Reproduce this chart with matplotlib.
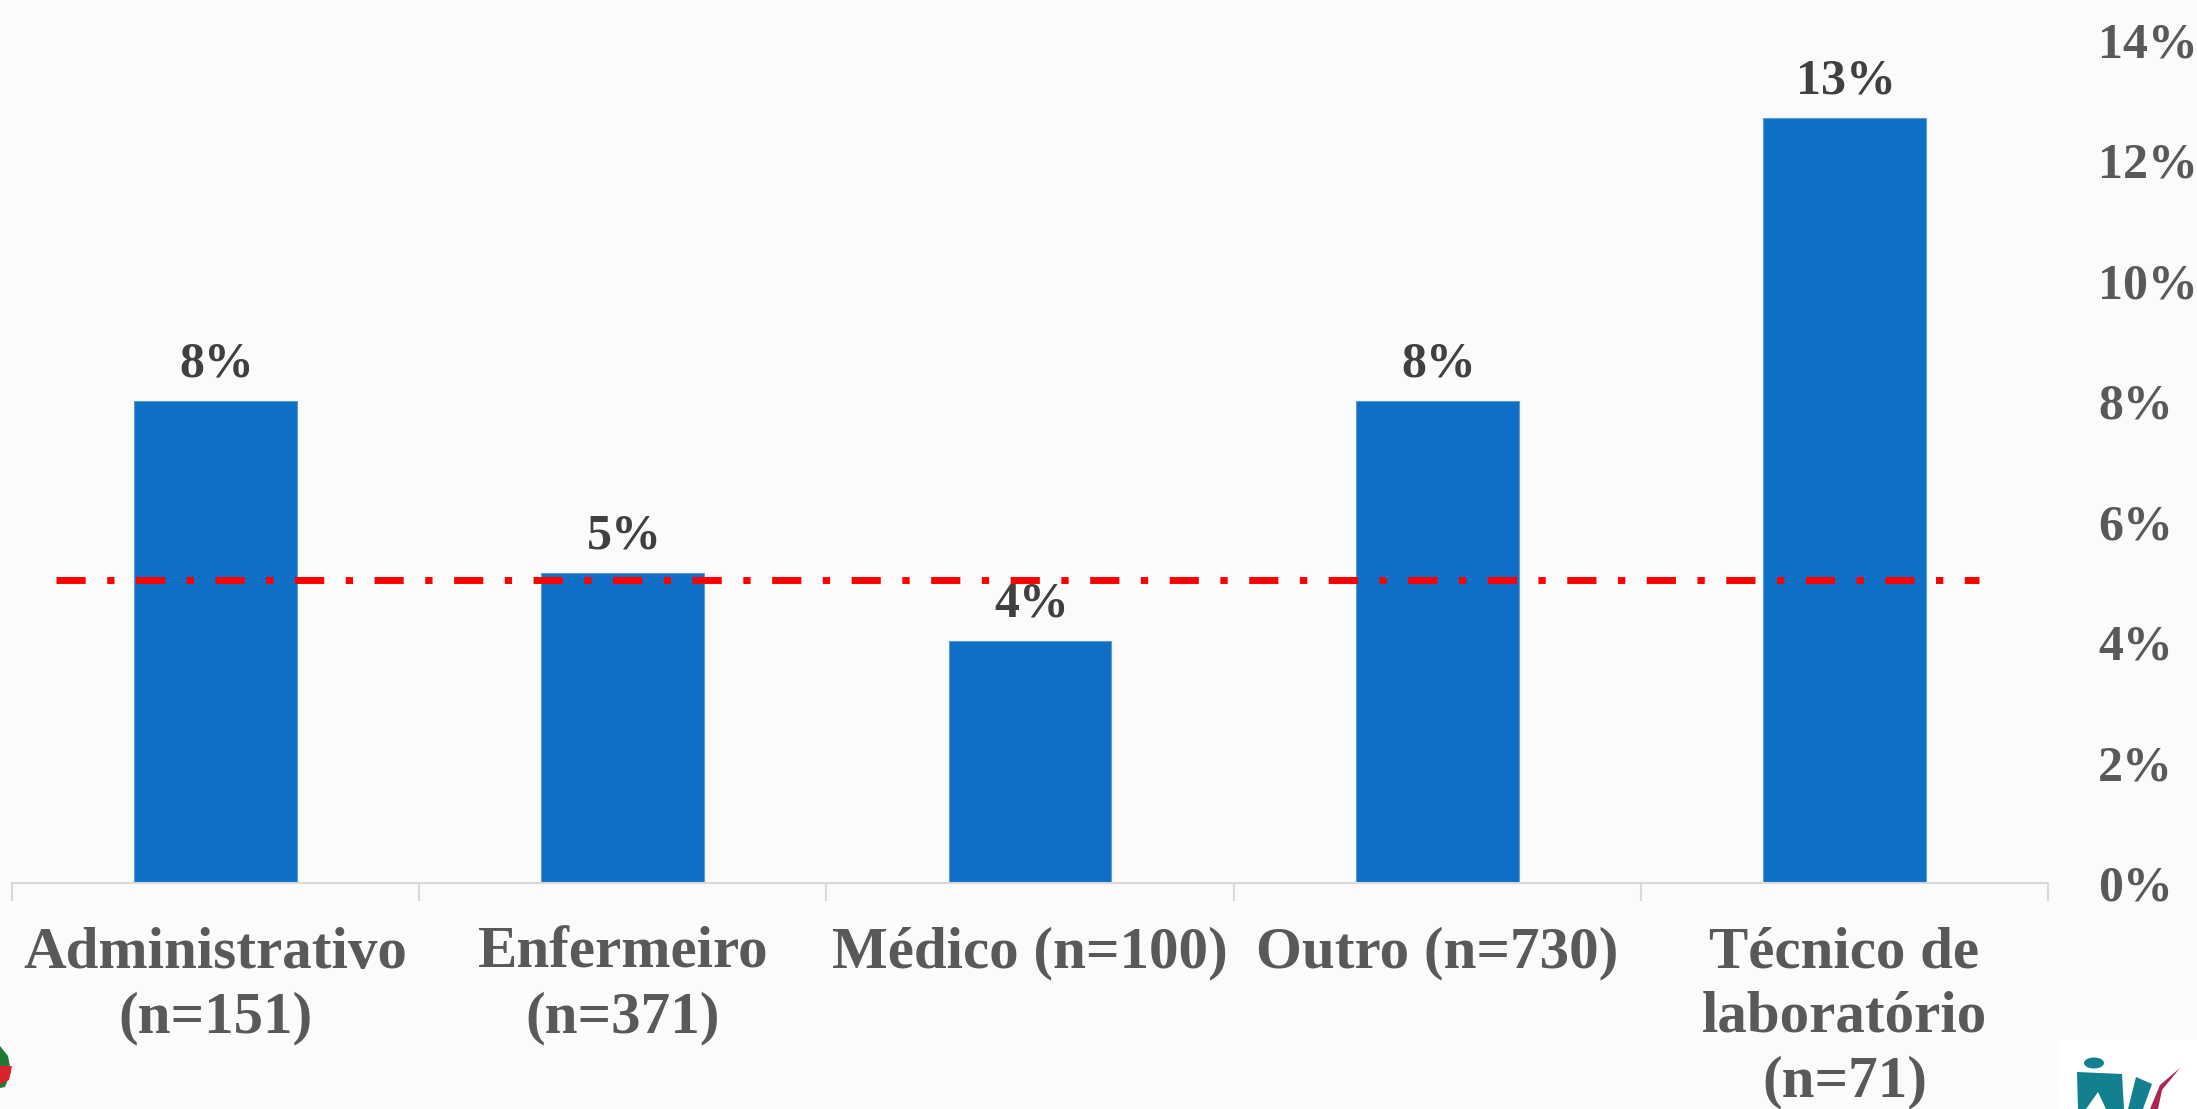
import matplotlib
matplotlib.use('Agg')
import matplotlib.pyplot as plt
from matplotlib.patches import Ellipse, Polygon, Rectangle
from matplotlib.transforms import Affine2D

categorias = ['Administrativo\n(n=151)', 'Enfermeiro\n(n=371)', 'Médico (n=100)', 'Outro (n=730)', 'Técnico de\nlaboratório\n(n=71)']
valores = [8.0, 5.14, 4.02, 8.0, 12.7]
rotulos = ['8%', '5%', '4%', '8%', '13%']
media = 5.03
ticks_y = [0, 2, 4, 6, 8, 10, 12, 14]

W, H = 2197, 1109
plt.rcParams['font.family'] = ['Liberation Serif', 'DejaVu Serif']
plt.rcParams['font.weight'] = 'bold'

fig = plt.figure(figsize=(W / 100, H / 100), dpi=100, facecolor='#fbfbfb')
ax = fig.add_axes([12 / W, 1 - 883 / H, 2036 / W, 843 / H])
ax.patch.set_alpha(0)

x = list(range(len(valores)))
ax.bar(x, valores, width=0.4, color='#0F6FC6', edgecolor='#5B9BD8', linewidth=0.8, zorder=2)
for xi, v, r in zip(x, valores, rotulos):
    ax.annotate(r, (xi, v), xytext=(1, 10), textcoords='offset points', ha='center', va='bottom',
                fontsize=36, color='#404040', zorder=3, linespacing=1)
ax.plot([-0.392, 4.33], [media, media], color='#FF0000', lw=5, dashes=(4.2, 3.1, 1.05, 3.1), zorder=5)

ax.set_xlim(-0.5, 4.5)
ax.set_ylim(0, 14)
ax.set_xticks(x)
ax.set_xticklabels(categorias, fontsize=42.5, color='#595959', linespacing=1.25)
ax.set_xticks([i - 0.5 for i in range(6)], minor=True)
ax.tick_params(axis='x', which='major', length=0, pad=31.5)
ax.tick_params(axis='x', which='minor', length=13, width=1.5, color='#D9D9D9')
ax.yaxis.tick_right()
ax.set_yticks(ticks_y)
ax.set_yticklabels([f'{t}%' for t in ticks_y], fontsize=36, color='#595959', ha='left')
ax.tick_params(axis='y', length=0, pad=36)
for lado in ['top', 'left', 'right']:
    ax.spines[lado].set_visible(False)
ax.spines['bottom'].set_color('#D9D9D9')
ax.spines['bottom'].set_linewidth(1.5)

# logos cortados nos cantos, em pixels da imagem
px = Affine2D().scale(1, -1).translate(0, H)
fig.add_artist(Rectangle((2060, 1040), 137, 69, transform=px, color='white', lw=0))
fig.add_artist(Ellipse((2094, 1063), 20, 11, transform=px, color='#12808F', lw=0))
fig.add_artist(Polygon([(2077, 1072), (2122, 1074), (2124, 1109), (2106, 1109), (2098, 1092), (2086, 1109), (2078, 1109)], transform=px, color='#12808F', lw=0))
fig.add_artist(Polygon([(2136, 1077), (2152, 1084), (2143, 1109), (2128, 1109)], transform=px, color='#12808F', lw=0))
fig.add_artist(Polygon([(2180, 1068), (2160, 1085), (2150, 1109), (2158, 1109), (2162, 1090)], transform=px, color='#A9264F', lw=0))
fig.add_artist(Polygon([(0, 1046), (8, 1056), (11, 1072), (5, 1087), (0, 1088)], transform=px, color='#1E7A34', lw=0))
fig.add_artist(Polygon([(0, 1066), (12, 1066), (9, 1080), (0, 1084)], transform=px, color='#D8232A', lw=0))

fig.savefig('out.png', dpi=100, facecolor=fig.get_facecolor())
